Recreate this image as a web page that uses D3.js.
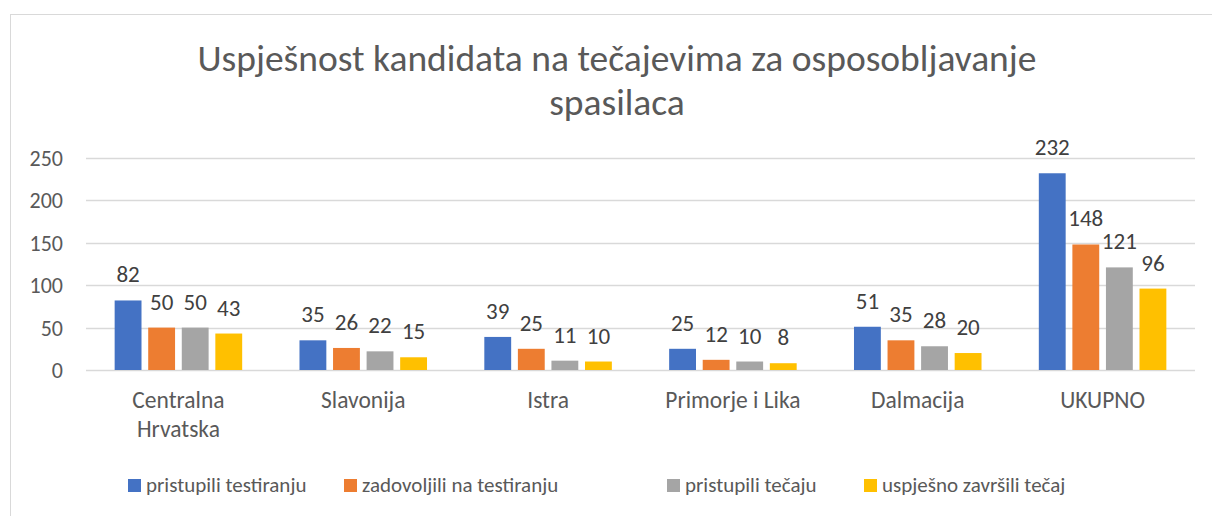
<!DOCTYPE html>
<html>
<head>
<meta charset="utf-8">
<script src="https://cdn.jsdelivr.net/npm/d3@7"></script>
<style>
  body { margin: 0; background: #fff; }
  text { font-family: Carlito, Calibri, Lato, sans-serif; fill: #595959; }
</style>
</head>
<body>
<script>
// #Data
const categories = [['Centralna', 'Hrvatska'], ['Slavonija'], ['Istra'], ['Primorje i Lika'], ['Dalmacija'], ['UKUPNO']];
const seriesNames = ['pristupili testiranju', 'zadovoljili na testiranju', 'pristupili tečaju', 'uspješno završili tečaj'];
const seriesValues = [
    [82, 35, 39, 25, 51, 232],
    [50, 26, 25, 12, 35, 148],
    [50, 22, 11, 10, 28, 121],
    [43, 15, 10, 8, 20, 96]
];
const colors = ['#4472c4', '#ed7d31', '#a5a5a5', '#ffc000'];
const yTicks = [0, 50, 100, 150, 200, 250];
const titleLines = ['Uspješnost kandidata na tečajevima za osposobljavanje', 'spasilaca'];

// #SVG
const width = 1212, height = 516;
const svg = d3.select('body').append('svg')
              .attr('width', width)
              .attr('height', height);

// chart area border
svg.append('rect')
   .attr('x', 10.5).attr('y', 14.5)
   .attr('width', 1300).attr('height', 600)
   .attr('fill', 'none')
   .attr('stroke', '#d9d9d9');

// #Title
svg.append('g').selectAll('text')
   .data(titleLines)
   .enter()
   .append('text')
   .attr('x', 617)
   .attr('y', (d, i) => 71 + i * 44)
   .attr('text-anchor', 'middle')
   .style('font-size', '37.5px')
   .text(d => d);

// #Scales
const x0 = d3.scaleBand()
             .domain(d3.range(categories.length))
             .range([86, 1195])
             .paddingInner(0.31)
             .paddingOuter(0.155);

const x1 = d3.scaleBand()
             .domain(d3.range(seriesNames.length))
             .range([0, x0.bandwidth()])
             .paddingInner(0.2);

const y = d3.scaleLinear()
            .domain([0, 250])
            .range([370, 158]);

// #Gridlines
svg.append('g').selectAll('line')
   .data(yTicks)
   .enter()
   .append('line')
   .attr('x1', 86).attr('x2', 1195)
   .attr('y1', d => Math.round(y(d)) + 0.5)
   .attr('y2', d => Math.round(y(d)) + 0.5)
   .attr('stroke', '#d9d9d9')
   .attr('stroke-width', 1.5);

// #Y axis labels
svg.append('g').selectAll('text')
   .data(yTicks)
   .enter()
   .append('text')
   .attr('x', 63)
   .attr('y', d => y(d) + 8)
   .attr('text-anchor', 'end')
   .style('font-size', '22px')
   .text(d => d);

// #Bars
const groups = svg.append('g').selectAll('g')
                  .data(seriesValues)
                  .enter()
                  .append('g')
                  .attr('fill', (d, i) => colors[i]);

groups.each(function (vals, si) {
    const g = d3.select(this);
    g.selectAll('rect')
     .data(vals)
     .enter()
     .append('rect')
     .attr('x', (d, ci) => x0(ci) + x1(si))
     .attr('y', d => y(d))
     .attr('width', x1.bandwidth())
     .attr('height', d => y(0) - y(d));

    g.selectAll('text')
     .data(vals)
     .enter()
     .append('text')
     .attr('x', (d, ci) => x0(ci) + x1(si) + x1.bandwidth() / 2)
     .attr('y', d => y(d) - 18)
     .attr('text-anchor', 'middle')
     .style('font-size', '23px')
     .style('fill', '#404040')
     .text(d => d);
});

// #Category labels
const catLabels = svg.append('g').selectAll('text')
                     .data(categories)
                     .enter()
                     .append('text')
                     .attr('x', (d, i) => x0(i) + x0.bandwidth() / 2)
                     .attr('y', 408)
                     .attr('text-anchor', 'middle')
                     .style('font-size', '23.5px');

catLabels.selectAll('tspan')
         .data(d => d)
         .enter()
         .append('tspan')
         .attr('x', function () { return d3.select(this.parentNode).attr('x'); })
         .attr('dy', (d, i) => i === 0 ? 0 : 29)
         .text(d => d);

// #Legend
const legendX = [128, 344, 667, 864];
const legend = svg.append('g').selectAll('g')
                  .data(seriesNames)
                  .enter()
                  .append('g')
                  .attr('transform', (d, i) => 'translate(' + legendX[i] + ',0)');

legend.append('rect')
      .attr('x', 0).attr('y', 479)
      .attr('width', 13).attr('height', 13)
      .attr('fill', (d, i) => colors[i]);

legend.append('text')
      .attr('x', 18)
      .attr('y', 492)
      .style('font-size', '21px')
      .text(d => d);
</script>
</body>
</html>
